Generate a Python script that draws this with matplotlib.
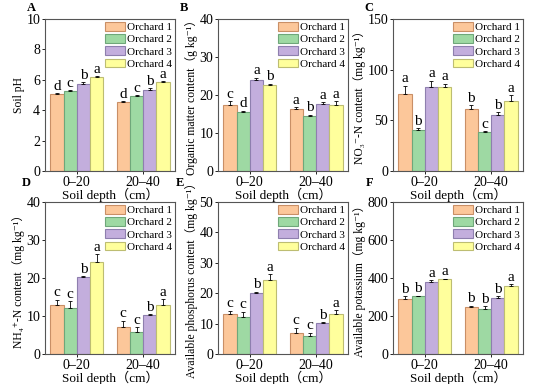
import matplotlib
matplotlib.use("Agg")
import matplotlib.pyplot as plt
import numpy as np

plt.rcParams['font.family'] = ['Liberation Serif', 'DejaVu Serif', 'Noto Sans CJK SC']

depths = ["0–20", "20–40"]
orchards = ["Orchard 1", "Orchard 2", "Orchard 3", "Orchard 4"]

ph_vals = [[5.05, 5.28, 5.70, 6.20], [4.52, 4.92, 5.35, 5.85]]
ph_err = [[0.05, 0.05, 0.15, 0.05], [0.07, 0.07, 0.10, 0.05]]
ph_let = [["d", "c", "b", "a"], ["d", "c", "b", "a"]]

om_vals = [[17.3, 15.4, 24.0, 22.7], [16.2, 14.5, 17.7, 17.4]]
om_err = [[1.0, 0.5, 0.5, 0.3], [0.6, 0.3, 0.4, 0.9]]
om_let = [["c", "d", "a", "b"], ["a", "b", "a", "a"]]

no3_vals = [[76, 40, 83, 83], [61, 38, 55, 69]]
no3_err = [[8, 2, 6, 3], [4, 1, 3, 6]]
no3_let = [["a", "b", "a", "a"], ["b", "c", "b", "a"]]

nh4_vals = [[13.0, 12.2, 20.2, 24.3], [7.0, 5.8, 10.2, 13.0]]
nh4_err = [[1.3, 1.7, 0.3, 2.0], [1.7, 1.2, 0.2, 1.4]]
nh4_let = [["c", "c", "b", "a"], ["c", "c", "b", "a"]]

ap_vals = [[13.0, 12.2, 20.2, 24.3], [7.0, 5.8, 10.2, 13.0]]
ap_err = [[1.3, 1.7, 0.3, 2.0], [1.7, 1.2, 0.2, 1.4]]
ap_let = [["c", "c", "b", "a"], ["c", "c", "b", "a"]]

ak_vals = [[288, 303, 378, 393], [245, 237, 295, 358]]
ak_err = [[15, 3, 10, 3], [8, 15, 10, 10]]
ak_let = [["b", "b", "a", "a"], ["b", "b", "b", "a"]]

fills = ["#FCC79A", "#9ED9A3", "#C3AEDD", "#FFFF9C"]
edges = ["#C98F66", "#6FA77A", "#8E7FAE", "#BDBD72"]

panels = [
    ("A", ph_vals, ph_err, ph_let, "Soil pH", (0, 10), [0, 2, 4, 6, 8, 10]),
    ("B", om_vals, om_err, om_let, "Organic matter content（g kg⁻¹）", (0, 40), [0, 10, 20, 30, 40]),
    ("C", no3_vals, no3_err, no3_let, "NO₃⁻-N content（mg kg⁻¹）", (0, 150), [0, 50, 100, 150]),
    ("D", nh4_vals, nh4_err, nh4_let, "NH₄⁺-N content（mg kg⁻¹）", (0, 40), [0, 10, 20, 30, 40]),
    ("E", ap_vals, ap_err, ap_let, "Available phosphorus content（mg kg⁻¹）", (0, 50), [0, 10, 20, 30, 40, 50]),
    ("F", ak_vals, ak_err, ak_let, "Available potassium（mg kg⁻¹）", (0, 800), [0, 200, 400, 600, 800]),
]

W, H = 550, 384
fig = plt.figure(figsize=(W / 100, H / 100), dpi=100)
lefts = [45, 218, 393]
tops = [19, 202]
aw, ah = 130, 152
letter_x = [[27, 180, 364], [22, 176, 366]]
letter_y = [8, 183]

bw = 0.2
x = np.arange(len(depths))
for i, (lab, vals, errs, lets, ylab, ylim, yt) in enumerate(panels):
    r, c = divmod(i, 3)
    ax = fig.add_axes([lefts[c] / W, 1 - (tops[r] + ah) / H, aw / W, ah / H])
    vals = np.array(vals)
    errs = np.array(errs)
    for k in range(len(orchards)):
        xs = x + (k - 1.5) * bw
        ax.bar(xs, vals[:, k], bw, color=fills[k], edgecolor=edges[k], linewidth=0.8,
               label=orchards[k], zorder=2)
        ax.errorbar(xs, vals[:, k], yerr=[np.zeros(len(x)), errs[:, k]], fmt="none",
                    ecolor="black", elinewidth=0.6, capsize=1.5, capthick=0.6, zorder=3)
        for j in range(len(x)):
            ax.text(xs[j], vals[j, k] + errs[j, k] + (ylim[1] * 0.003), lets[j][k],
                    ha="center", va="bottom", fontsize=11)
    ax.set_xlim(-0.48, 1.48)
    ax.set_ylim(*ylim)
    ax.set_yticks(yt)
    ax.set_xticks(x)
    ax.set_xticklabels(depths)
    ax.tick_params(labelsize=10, length=2.5, width=0.6, pad=1)
    for s in ax.spines.values():
        s.set_linewidth(0.8)
        s.set_color("#555555")
    ax.set_ylabel(ylab, fontsize=8.4, labelpad=1)
    if lab == "E":
        ax.yaxis.set_label_coords(-0.15, 0.5)
    ax.set_xlabel("Soil depth（cm）", fontsize=9.5, labelpad=-1)
    ax.legend(loc="upper right", frameon=False, fontsize=8, handlelength=1.8,
              handleheight=0.85, labelspacing=0.18, borderaxespad=0.05,
              handletextpad=0.2, borderpad=0.2)
    fig.text(letter_x[r][c] / W, 1 - letter_y[r] / H, lab, fontsize=9,
             fontweight="bold", ha="left", va="center")

fig.savefig("out.png", dpi=100)
